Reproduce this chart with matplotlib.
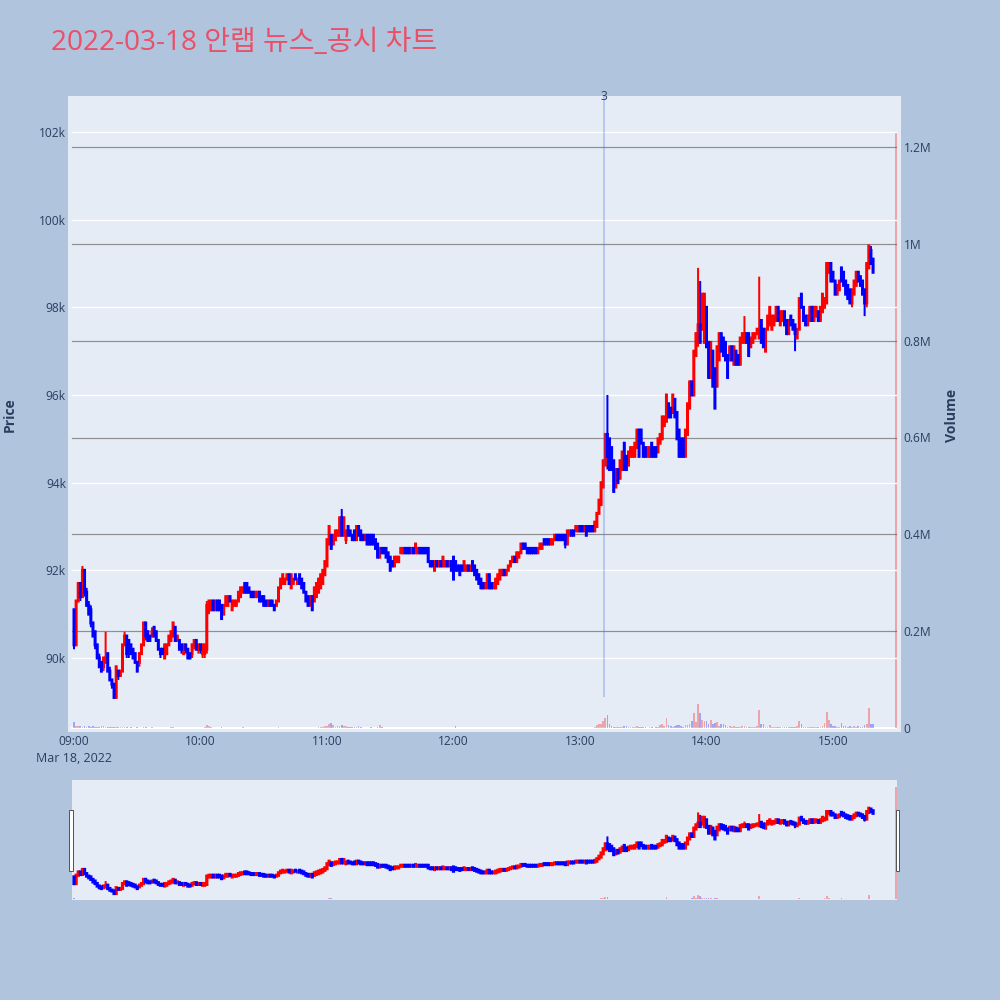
import numpy as np
import pandas as pd
import matplotlib
matplotlib.use("Agg")
import matplotlib.pyplot as plt
import matplotlib.dates as mdates
from matplotlib.patches import Rectangle
from matplotlib.transforms import blended_transform_factory

# ---------------- data ----------------
TITLE = "2022-03-18 안랩 뉴스_공시 차트"
DATE = "2022-03-18"
SESSION_START = "09:00"
CLOSING_AUCTION = "15:30"
NEWS_TIME = "13:11:25"
NEWS_LABEL = "3"
NEWS_LINE_LOW = 89100  # won

# 1-minute candles 09:00 .. 15:19 then closing auction 15:30 (prices in units of 100 won)
OPEN = [
    911, 903, 913, 917, 914, 920, 915, 912, 911, 908, 906, 903, 900, 899, 898, 899, 901, 897, 895, 894,
    891, 897, 896, 897, 903, 905, 904, 903, 902, 901, 899, 899, 901, 903, 908, 906, 905, 905, 907, 906,
    904, 902, 902, 900, 901, 903, 904, 905, 907, 904, 904, 903, 901, 903, 902, 901, 901, 903, 904, 902,
    903, 901, 901, 902, 911, 911, 913, 911, 913, 913, 912, 910, 912, 912, 914, 911, 912, 912, 913, 914,
    915, 917, 917, 916, 915, 915, 914, 914, 915, 914, 914, 913, 912, 913, 913, 912, 912, 913, 916, 917,
    917, 918, 919, 916, 917, 919, 917, 919, 918, 917, 915, 914, 912, 914, 913, 914, 915, 916, 917, 919,
    921, 926, 928, 926, 927, 928, 928, 932, 928, 927, 930, 929, 928, 929, 927, 930, 929, 928, 927, 928,
    928, 928, 928, 927, 926, 923, 925, 925, 925, 924, 923, 922, 921, 922, 922, 924, 924, 925, 925, 925,
    924, 925, 924, 924, 925, 925, 925, 925, 925, 922, 922, 920, 922, 921, 922, 921, 921, 922, 921, 922,
    923, 922, 921, 921, 921, 920, 920, 921, 920, 922, 921, 920, 919, 918, 917, 916, 916, 919, 917, 916,
    916, 917, 918, 919, 920, 919, 920, 921, 922, 923, 922, 923, 924, 926, 926, 925, 925, 925, 925, 925,
    924, 925, 925, 927, 927, 927, 926, 926, 927, 928, 928, 928, 928, 928, 926, 928, 929, 929, 929, 929,
    930, 930, 929, 930, 930, 930, 930, 929, 930, 933, 935, 939, 944, 951, 950, 948, 945, 939, 943, 941,
    943, 949, 946, 944, 946, 946, 946, 948, 952, 952, 949, 948, 946, 946, 949, 948, 948, 947, 949, 950,
    953, 954, 958, 957, 956, 959, 956, 952, 950, 950, 946, 951, 957, 963, 960, 969, 972, 976, 975, 972,
    980, 972, 964, 970, 966, 962, 968, 974, 973, 972, 969, 968, 971, 967, 970, 969, 967, 972, 972, 974,
    974, 971, 972, 973, 974, 973, 977, 975, 970, 975, 976, 975, 976, 977, 980, 976, 977, 979, 977, 974,
    978, 977, 976, 973, 975, 983, 980, 978, 976, 977, 980, 977, 978, 979, 977, 979, 980, 981, 988, 990,
    988, 986, 983, 984, 989, 988, 986, 985, 984, 981, 983, 985, 988, 987, 986, 984, 981, 989, 993, 991,
    989,
]
HIGH = [
    911, 913, 917, 917, 921, 920, 916, 913, 912, 908, 906, 903, 901, 899, 900, 906, 901, 898, 895, 894,
    898, 897, 897, 903, 906, 905, 904, 903, 902, 901, 899, 901, 903, 908, 908, 906, 905, 907, 907, 906,
    904, 902, 902, 903, 903, 905, 906, 908, 907, 905, 904, 903, 903, 903, 902, 901, 903, 904, 904, 903,
    903, 903, 903, 913, 913, 913, 913, 913, 913, 913, 912, 912, 914, 914, 914, 913, 913, 913, 915, 916,
    916, 917, 917, 916, 915, 915, 915, 915, 915, 914, 914, 913, 913, 913, 913, 912, 913, 916, 918, 919,
    918, 919, 919, 919, 918, 919, 918, 919, 918, 917, 915, 914, 914, 914, 916, 917, 918, 919, 920, 922,
    927, 930, 928, 928, 929, 929, 932, 934, 932, 929, 930, 929, 928, 929, 930, 930, 929, 928, 928, 928,
    928, 928, 928, 927, 926, 925, 925, 925, 925, 924, 923, 922, 923, 923, 923, 925, 925, 925, 925, 925,
    925, 925, 926, 925, 925, 925, 925, 925, 925, 922, 922, 922, 922, 922, 922, 923, 922, 922, 922, 922,
    923, 922, 921, 921, 921, 922, 921, 921, 921, 922, 921, 920, 919, 918, 917, 917, 919, 919, 917, 917,
    918, 919, 920, 920, 920, 920, 921, 922, 923, 923, 924, 924, 926, 926, 926, 925, 925, 925, 925, 925,
    925, 926, 926, 927, 927, 927, 927, 927, 928, 928, 928, 928, 928, 928, 929, 929, 929, 929, 930, 930,
    930, 930, 930, 930, 930, 930, 930, 931, 933, 936, 940, 945, 951, 960, 950, 948, 945, 943, 943, 945,
    947, 949, 946, 947, 948, 948, 949, 952, 952, 952, 949, 948, 948, 948, 949, 948, 948, 950, 951, 955,
    955, 960, 958, 957, 960, 959, 956, 952, 950, 950, 952, 958, 963, 963, 970, 974, 989, 986, 983, 983,
    980, 972, 972, 970, 966, 971, 974, 974, 973, 972, 969, 971, 971, 971, 970, 969, 973, 974, 978, 974,
    974, 973, 974, 974, 975, 987, 977, 975, 975, 978, 980, 978, 978, 980, 980, 979, 979, 979, 977, 977,
    978, 977, 976, 975, 982, 983, 980, 978, 978, 980, 980, 980, 980, 979, 980, 983, 982, 990, 990, 990,
    988, 986, 985, 986, 989, 988, 986, 985, 984, 984, 986, 988, 988, 987, 986, 984, 990, 994, 994, 991,
    990,
]
LOW = [
    902, 903, 913, 913, 914, 914, 912, 910, 907, 905, 902, 900, 898, 897, 897, 899, 897, 895, 893, 891,
    891, 895, 896, 897, 903, 900, 900, 901, 900, 899, 897, 898, 901, 903, 904, 904, 904, 905, 905, 904,
    902, 900, 901, 900, 901, 903, 904, 905, 904, 904, 902, 901, 901, 901, 900, 900, 900, 902, 902, 901,
    901, 900, 900, 901, 910, 911, 911, 911, 911, 911, 909, 910, 912, 912, 913, 911, 912, 912, 913, 914,
    915, 915, 915, 915, 914, 914, 914, 914, 913, 913, 912, 912, 912, 912, 912, 911, 912, 913, 916, 917,
    917, 918, 917, 916, 917, 918, 917, 917, 916, 915, 913, 912, 912, 911, 913, 914, 915, 916, 917, 919,
    921, 926, 925, 926, 927, 928, 928, 928, 928, 926, 928, 928, 927, 927, 927, 928, 927, 927, 927, 926,
    926, 926, 926, 925, 923, 923, 924, 924, 923, 922, 920, 921, 921, 922, 922, 924, 924, 924, 924, 924,
    924, 924, 924, 924, 924, 924, 924, 924, 922, 921, 921, 920, 921, 921, 921, 921, 921, 921, 921, 920,
    918, 920, 920, 919, 920, 920, 920, 920, 920, 920, 919, 918, 917, 916, 916, 916, 916, 916, 916, 916,
    916, 917, 918, 919, 919, 919, 920, 921, 922, 922, 922, 923, 924, 925, 925, 924, 924, 924, 924, 924,
    924, 925, 925, 926, 926, 926, 926, 926, 927, 927, 927, 927, 927, 925, 926, 928, 928, 928, 929, 929,
    929, 929, 929, 928, 929, 929, 929, 929, 930, 933, 935, 939, 944, 943, 943, 943, 938, 939, 940, 941,
    943, 943, 943, 944, 946, 946, 946, 948, 946, 949, 946, 946, 946, 946, 946, 946, 946, 947, 949, 950,
    953, 954, 955, 955, 956, 955, 950, 946, 946, 946, 946, 951, 957, 960, 960, 969, 971, 972, 975, 972,
    971, 964, 964, 962, 957, 962, 968, 970, 969, 968, 964, 968, 968, 967, 967, 967, 967, 972, 972, 972,
    969, 971, 972, 973, 974, 973, 972, 971, 970, 975, 976, 975, 976, 977, 977, 976, 977, 976, 974, 974,
    976, 975, 970, 973, 975, 980, 977, 976, 976, 977, 977, 977, 978, 977, 977, 979, 980, 981, 988, 986,
    986, 983, 983, 984, 986, 985, 983, 982, 981, 980, 983, 985, 986, 985, 983, 978, 980, 989, 990, 988,
    989,
]
CLOSE = [
    903, 913, 917, 914, 920, 915, 912, 910, 908, 905, 903, 900, 898, 897, 900, 900, 897, 895, 894, 891,
    898, 896, 897, 903, 905, 901, 902, 901, 900, 899, 897, 901, 903, 908, 905, 904, 904, 906, 905, 904,
    902, 901, 901, 903, 903, 905, 906, 908, 904, 905, 902, 902, 903, 902, 900, 900, 903, 904, 902, 903,
    902, 903, 903, 912, 913, 913, 911, 913, 911, 911, 909, 912, 914, 914, 913, 913, 913, 913, 915, 916,
    916, 915, 915, 915, 914, 914, 915, 915, 913, 913, 912, 912, 913, 912, 912, 911, 913, 916, 918, 919,
    918, 919, 917, 919, 918, 918, 918, 917, 916, 915, 913, 912, 914, 911, 916, 917, 918, 919, 920, 922,
    927, 930, 925, 928, 929, 929, 932, 928, 932, 929, 928, 928, 927, 927, 930, 928, 927, 927, 928, 926,
    926, 926, 926, 925, 923, 925, 924, 924, 923, 922, 920, 921, 923, 923, 923, 925, 925, 924, 924, 924,
    925, 924, 926, 925, 924, 924, 924, 924, 922, 921, 921, 922, 921, 922, 921, 923, 922, 921, 922, 920,
    918, 920, 920, 919, 920, 922, 921, 920, 921, 920, 919, 918, 917, 916, 916, 917, 919, 916, 916, 917,
    918, 919, 920, 920, 919, 920, 921, 922, 923, 922, 924, 924, 926, 925, 925, 924, 924, 924, 924, 924,
    925, 926, 926, 926, 926, 926, 927, 927, 928, 927, 927, 927, 927, 926, 929, 929, 928, 928, 930, 930,
    929, 929, 930, 928, 929, 929, 929, 931, 933, 936, 940, 945, 951, 946, 943, 943, 938, 943, 940, 945,
    947, 943, 943, 947, 948, 948, 949, 952, 946, 949, 946, 946, 948, 948, 946, 946, 946, 950, 951, 955,
    955, 960, 955, 955, 960, 955, 950, 946, 946, 946, 952, 958, 963, 960, 970, 974, 976, 972, 983, 983,
    971, 964, 972, 962, 957, 971, 974, 970, 969, 968, 964, 971, 968, 971, 967, 967, 973, 974, 974, 972,
    969, 973, 974, 974, 975, 975, 972, 971, 975, 978, 980, 978, 978, 980, 977, 979, 979, 976, 974, 977,
    976, 975, 974, 975, 982, 980, 977, 976, 978, 980, 977, 980, 980, 977, 980, 983, 982, 990, 990, 986,
    986, 983, 985, 986, 986, 985, 983, 982, 981, 984, 986, 988, 986, 985, 983, 981, 990, 994, 990, 988,
    990,
]
# volume in thousands of shares
VOLUME = [
    12, 4, 5, 4, 3, 4, 3, 5, 3, 4, 3, 2, 3, 4, 5, 3, 2, 2, 3, 2,
    3, 2, 2, 3, 3, 2, 1, 2, 1, 1, 2, 1, 1, 2, 2, 1, 1, 2, 1, 1,
    1, 1, 1, 1, 1, 1, 2, 2, 1, 1, 1, 1, 1, 1, 1, 1, 1, 1, 1, 1,
    1, 1, 2, 7, 4, 2, 1, 1, 1, 1, 2, 1, 1, 1, 1, 1, 1, 1, 1, 1,
    2, 1, 1, 1, 1, 1, 1, 1, 1, 1, 1, 1, 1, 1, 1, 1, 1, 2, 1, 1,
    1, 1, 1, 1, 1, 1, 1, 1, 1, 1, 1, 1, 1, 1, 1, 1, 2, 2, 3, 4,
    5, 9, 10, 6, 3, 4, 4, 7, 5, 4, 3, 3, 2, 2, 2, 4, 2, 1, 1, 1,
    1, 2, 1, 1, 2, 6, 2, 1, 1, 1, 1, 1, 1, 1, 1, 1, 1, 1, 1, 1,
    1, 1, 1, 1, 1, 1, 1, 1, 1, 1, 1, 1, 1, 1, 1, 1, 1, 1, 1, 1,
    1, 4, 1, 1, 1, 1, 1, 1, 1, 1, 1, 1, 1, 1, 1, 1, 1, 1, 1, 1,
    1, 1, 1, 1, 1, 1, 1, 1, 1, 1, 1, 1, 1, 1, 1, 1, 1, 1, 1, 1,
    1, 1, 1, 1, 1, 1, 1, 1, 1, 1, 1, 1, 1, 1, 1, 1, 1, 1, 1, 1,
    1, 1, 1, 1, 1, 1, 1, 2, 6, 8, 9, 14, 21, 27, 8, 5, 3, 3, 2, 3,
    2, 4, 4, 2, 2, 2, 3, 5, 2, 2, 2, 2, 1, 2, 2, 1, 3, 3, 6, 8,
    4, 21, 6, 4, 3, 5, 6, 7, 5, 3, 6, 7, 8, 15, 32, 12, 49, 32, 17, 15,
    15, 9, 17, 8, 10, 12, 5, 8, 8, 6, 3, 5, 2, 4, 3, 2, 2, 4, 5, 3,
    2, 2, 3, 3, 4, 37, 8, 8, 3, 2, 6, 2, 2, 2, 2, 2, 3, 2, 2, 2,
    2, 3, 3, 4, 14, 8, 3, 2, 2, 3, 2, 2, 2, 3, 2, 4, 10, 33, 17, 8,
    5, 4, 3, 3, 10, 4, 4, 3, 4, 3, 4, 3, 4, 3, 3, 7, 8, 41, 8, 8,
    1231,
]

PRICE_TICKS = [90000, 92000, 94000, 96000, 98000, 100000, 102000]
VOLUME_TICKS = [0, 200000, 400000, 600000, 800000, 1000000, 1200000]
VOLUME_TICK_LABELS = ["0", "0.2M", "0.4M", "0.6M", "0.8M", "1M", "1.2M"]
HOUR_TICKS = ["09:00", "10:00", "11:00", "12:00", "13:00", "14:00", "15:00"]

# ---------------- style ----------------
PAPER = "#b0c4de"
PLOT_BG = "#e5ecf6"
FONT_COLOR = "#2a3f5f"
INC = "#ff0000"
DEC = "#0000ff"
TITLE_COLOR = "#ea5068"
plt.rcParams["font.family"] = ["Open Sans", "Noto Sans CJK KR", "DejaVu Sans"]

W, H_ = 1000, 1000
PX = 0.72  # points per pixel at dpi 100


def fx(px):
    return px / W


def fy(py):
    return 1 - py / H_


o = np.array(OPEN) * 100.0
h = np.array(HIGH) * 100.0
lo = np.array(LOW) * 100.0
c = np.array(CLOSE) * 100.0
vol = np.array(VOLUME) * 1000.0
n_cont = len(OPEN) - 1
times = list(pd.date_range(f"{DATE} {SESSION_START}", periods=n_cont, freq="min"))
times.append(pd.Timestamp(f"{DATE} {CLOSING_AUCTION}"))
x = mdates.date2num(pd.DatetimeIndex(times).to_pydatetime())
up = c >= o
continuous = np.arange(len(x)) < n_cont
MIN = 1.0 / 1440.0
t0 = mdates.date2num(pd.Timestamp(f"{DATE} {SESSION_START}").to_pydatetime())

fig = plt.figure(figsize=(10, 10), dpi=100, facecolor=PAPER)

# plot area pixel geometry
L_PX, R_PX, T_PX, B_PX = 68, 901, 96, 732
X_PER_MIN = 126.5 / 60.0


def xlim_for(lpx, rpx):
    return (t0 + (lpx - 74) / X_PER_MIN * MIN, t0 + (rpx - 74) / X_PER_MIN * MIN)


PRICE_PX_PER_K = (658 - 132) / 12.0
price_lim = (90000 - (B_PX - 658) / PRICE_PX_PER_K * 1000, 102000 + (132 - T_PX) / PRICE_PX_PER_K * 1000)
VOL_PX_PER_M = (728 - 147) / 1.2
vol_lim = (-(B_PX - 728) / VOL_PX_PER_M * 1e6, 1.2e6 + (147 - T_PX) / VOL_PX_PER_M * 1e6)


def draw_candles(a, wick_lw, body_lw):
    for col, m in ((INC, up & continuous), (DEC, ~up & continuous)):
        wc = a.vlines(x[m], lo[m], h[m], colors=col, lw=wick_lw, zorder=3)
        wc.set_snap(False)
        lc = a.vlines(x[m], o[m], c[m], colors=col, lw=body_lw, zorder=4)
        lc.set_capstyle("projecting")
        lc.set_snap(False)


def draw_volume(a):
    cols = np.where(up, INC, DEC)
    a.bar(x, vol, width=0.8 * MIN, color=cols, alpha=0.3, linewidth=0, zorder=2)


# ---- main chart ----
ax = fig.add_axes([fx(L_PX), fy(B_PX), fx(R_PX - L_PX), (B_PX - T_PX) / H_])
axv = ax.twinx()
ax.set_zorder(axv.get_zorder() + 1)
ax.patch.set_visible(False)
axv.patch.set_visible(True)
axv.patch.set_facecolor(PLOT_BG)

ax.set_xlim(*xlim_for(L_PX, R_PX))
ax.set_ylim(*price_lim)
axv.set_ylim(*vol_lim)

gx0 = (72 - L_PX) / (R_PX - L_PX)
gx1 = (896 - L_PX) / (R_PX - L_PX)
for v in VOLUME_TICKS[1:]:
    axv.axhline(v, xmin=gx0, xmax=gx1, color="#8f8f8f", lw=1.2 * PX, zorder=1)
axv.axhline(0, xmin=gx0, xmax=gx1, color="white", lw=2 * PX, zorder=1)
for p in PRICE_TICKS:
    ax.axhline(p, xmin=gx0, xmax=gx1, color="white", lw=1.4 * PX, zorder=1)

draw_volume(axv)
draw_candles(ax, 2 * PX, 3.0 * PX)

# news marker
news_x = mdates.date2num(pd.Timestamp(f"{DATE} {NEWS_TIME}").to_pydatetime())
ax.vlines(news_x, NEWS_LINE_LOW, price_lim[1], colors="#4169e1", alpha=0.35, lw=1.6 * PX, zorder=5)
ax.text(news_x, 1.0, NEWS_LABEL, transform=blended_transform_factory(ax.transData, ax.transAxes),
        ha="center", va="center", fontsize=12 * PX, color=FONT_COLOR, zorder=6)

for a in (ax, axv):
    for s in a.spines.values():
        s.set_visible(False)
ax.tick_params(axis="both", length=0, labelsize=12 * PX, labelcolor=FONT_COLOR)
axv.tick_params(axis="y", length=0, labelsize=12 * PX, labelcolor=FONT_COLOR, pad=2)
ax.tick_params(axis="y", pad=1.5)
ax.tick_params(axis="x", pad=2.5)

ax.set_yticks(PRICE_TICKS)
ax.set_yticklabels([f"{int(p / 1000)}k" for p in PRICE_TICKS])
axv.set_yticks(VOLUME_TICKS)
axv.set_yticklabels(VOLUME_TICK_LABELS)
hour_x = [mdates.date2num(pd.Timestamp(f"{DATE} {t}").to_pydatetime()) for t in HOUR_TICKS]
ax.set_xticks(hour_x)
ax.set_xticklabels(HOUR_TICKS)
ax.text(hour_x[0], -(758 - B_PX) / (B_PX - T_PX), pd.Timestamp(DATE).strftime("%b %d, %Y").replace(" 0", " "),
        transform=blended_transform_factory(ax.transData, ax.transAxes),
        ha="center", va="center", fontsize=12.5 * PX, color=FONT_COLOR)

fig.text(fx(10), fy(415), "Price", rotation=90, ha="center", va="center",
         fontsize=14 * PX, fontweight="bold", color=FONT_COLOR)
fig.text(fx(952), fy(415), "Volume", rotation=90, ha="center", va="center",
         fontsize=14 * PX, fontweight="bold", color=FONT_COLOR)

fig.text(fx(51), fy(50), TITLE, ha="left", va="baseline", fontsize=28 * PX, color=TITLE_COLOR,
         family=["Open Sans", "Noto Sans CJK KR"])

# ---- range slider ----
S_L, S_R, S_T, S_B = 72, 897, 780, 900
sl = fig.add_axes([fx(S_L), fy(S_B), fx(S_R - S_L), (S_B - S_T) / H_])
slv = sl.twinx()
sl.set_zorder(slv.get_zorder() + 1)
sl.patch.set_visible(False)
slv.patch.set_visible(True)
slv.patch.set_facecolor(PLOT_BG)
sl.set_xlim(*xlim_for(S_L, S_R))
sl.set_ylim(*price_lim)
slv.set_ylim(*vol_lim)
draw_volume(slv)
draw_candles(sl, 2 * PX, 3.2 * PX)
for a in (sl, slv):
    for s in a.spines.values():
        s.set_visible(False)
    a.set_xticks([])
    a.set_yticks([])

for hx in (69, 895.5):
    fig.add_artist(Rectangle((fx(hx), fy(871)), 3.5 / W, 61 / H_, transform=fig.transFigure,
                             facecolor="white", edgecolor="#555555", lw=1 * PX, zorder=10))

fig.savefig("out.png", dpi=100, facecolor=PAPER)
